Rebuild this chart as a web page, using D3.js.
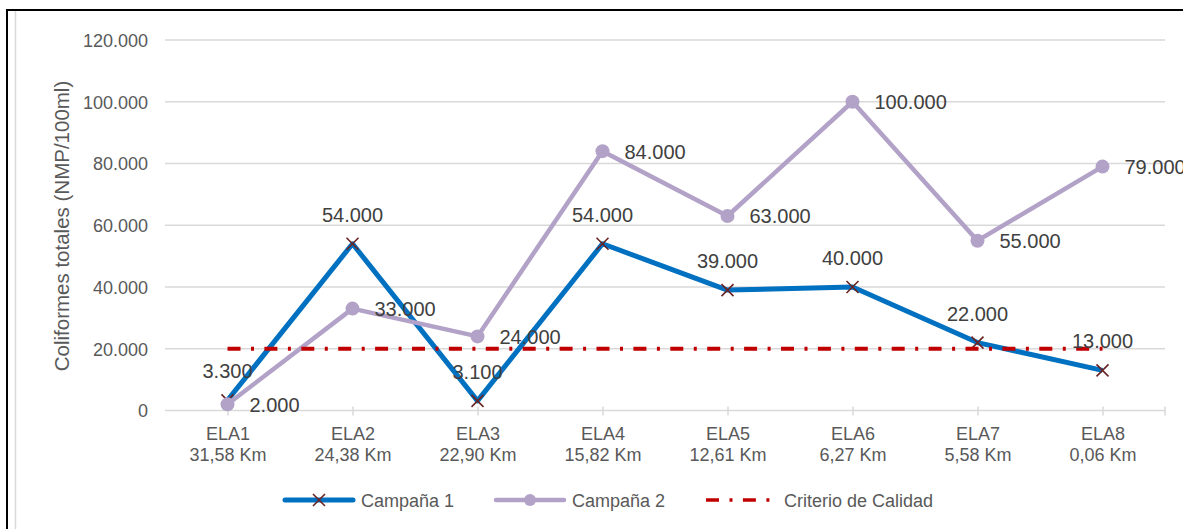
<!DOCTYPE html>
<html><head><meta charset="utf-8">
<script src="https://cdn.jsdelivr.net/npm/d3@7"></script>
<style>
html,body{margin:0;padding:0;background:#fff;overflow:hidden;}
svg{display:block;font-family:"Liberation Sans",Arial,sans-serif;}
</style></head>
<body>
<svg id="chart" width="1183" height="529"></svg>
<script>
const categories = ["ELA1","ELA2","ELA3","ELA4","ELA5","ELA6","ELA7","ELA8"];
const distances = ["31,58 Km","24,38 Km","22,90 Km","15,82 Km","12,61 Km","6,27 Km","5,58 Km","0,06 Km"];
const campana1 = [3300, 54000, 3100, 54000, 39000, 40000, 22000, 13000];
const campana2 = [2000, 33000, 24000, 84000, 63000, 100000, 55000, 79000];
const criterio = [20000, 20000, 20000, 20000, 20000, 20000, 20000, 20000];
const yTicks = [0, 20000, 40000, 60000, 80000, 100000, 120000];
const seriesNames = ["Campaña 1", "Campaña 2", "Criterio de Calidad"];
const yTitle = "Coliformes totales (NMP/100ml)";

const loc = d3.formatLocale({decimal: ",", thousands: ".", grouping: [3], currency: ["", ""]});
const fmt = loc.format(",d");

const svg = d3.select("#chart");
const BLUE = "#0070C0", PURPLE = "#B3A2C7", RED = "#C00000", XMARK = "#6B2424";
const AXIS_TXT = "#595959", LBL_TXT = "#404040", GRID = "#D9D9D9";
const DASH = "13,10.5,3,10.4";

// frame
svg.append("path").attr("d", "M7,529 V10 H1183").attr("fill", "none").attr("stroke", "#000").attr("stroke-width", 2);
svg.append("line").attr("x1", 15.5).attr("x2", 15.5).attr("y1", 11).attr("y2", 529).attr("stroke", GRID).attr("stroke-width", 1.5);

const x = d3.scalePoint().domain(categories).range([165, 1165]).padding(0.5);
const y = d3.scaleLinear().domain([0, 120000]).range([410.5, 40]);

// gridlines
svg.append("g").selectAll("line").data(yTicks.filter(d => d > 0)).join("line")
  .attr("x1", 165).attr("x2", 1165).attr("y1", d => y(d)).attr("y2", d => y(d))
  .attr("stroke", GRID).attr("stroke-width", 1.5);

// y axis labels
const yAxis = d3.axisLeft(y).tickValues(yTicks).tickFormat(fmt).tickSize(0).tickPadding(0);
const gy = svg.append("g").attr("transform", "translate(148,0)").call(yAxis);
gy.select(".domain").remove();
gy.selectAll("text").attr("fill", AXIS_TXT).style("font-size", "18px").attr("dy", "0.35em");

// x axis
const y0 = y(0);
svg.append("line").attr("x1", 165).attr("x2", 1165).attr("y1", y0).attr("y2", y0).attr("stroke", GRID).attr("stroke-width", 1.5);
const xAxis = d3.axisBottom(x).tickSize(0).tickPadding(0).tickFormat("");
const gx = svg.append("g").attr("transform", `translate(0,${y0})`).call(xAxis);
gx.select(".domain").remove();
gx.selectAll(".tick").append("line").attr("y1", -4).attr("y2", 5).attr("stroke", GRID).attr("stroke-width", 1.5);
gx.append("line").attr("x1", 1165).attr("x2", 1165).attr("y1", -4).attr("y2", 5).attr("stroke", GRID).attr("stroke-width", 1.5);
gx.selectAll(".tick").each(function(d, i) {
  const t = d3.select(this).append("text").attr("fill", AXIS_TXT).attr("text-anchor", "middle").style("font-size", "18px");
  t.append("tspan").attr("x", 0).attr("y", 29).text(d);
  t.append("tspan").attr("x", 0).attr("y", 50).text(distances[i]);
});

// y title
svg.append("text").attr("transform", `translate(69,226) rotate(-90)`)
  .attr("text-anchor", "middle").attr("fill", AXIS_TXT).style("font-size", "20.5px").text(yTitle);

const line = d3.line().x((d, i) => x(categories[i])).y(d => y(d));

// series 1
svg.append("path").datum(campana1).attr("d", line).attr("fill", "none").attr("stroke", BLUE)
  .attr("stroke-width", 5).attr("stroke-linejoin", "round");
function xMark(g, cx, cy, s) {
  g.append("path").attr("d", `M${cx - s},${cy - s} L${cx + s},${cy + s} M${cx - s},${cy + s} L${cx + s},${cy - s}`)
    .attr("stroke", XMARK).attr("stroke-width", 1.6).attr("fill", "none");
}
const m1 = svg.append("g");
campana1.forEach((v, i) => xMark(m1, x(categories[i]), y(v), 6));

// series 2
svg.append("path").datum(campana2).attr("d", line).attr("fill", "none").attr("stroke", PURPLE)
  .attr("stroke-width", 4.5).attr("stroke-linejoin", "round");
svg.append("g").selectAll("circle").data(campana2).join("circle")
  .attr("cx", (d, i) => x(categories[i])).attr("cy", d => y(d)).attr("r", 7).attr("fill", PURPLE);

// criterio
svg.append("path").datum(criterio).attr("d", line).attr("fill", "none").attr("stroke", RED)
  .attr("stroke-width", 4).attr("stroke-dasharray", DASH);

// labels
svg.append("g").selectAll("text").data(campana1).join("text")
  .attr("x", (d, i) => x(categories[i])).attr("y", d => y(d) - 22)
  .attr("text-anchor", "middle").attr("fill", LBL_TXT).style("font-size", "20px").text(d => fmt(d));
svg.append("g").selectAll("text").data(campana2).join("text")
  .attr("x", (d, i) => x(categories[i]) + 22).attr("y", d => y(d) + 7.5)
  .attr("text-anchor", "start").attr("fill", LBL_TXT).style("font-size", "20px").text(d => fmt(d));

// legend
const lg = svg.append("g").attr("transform", "translate(0,500)");
lg.append("line").attr("x1", 285).attr("x2", 353).attr("y1", 0).attr("y2", 0).attr("stroke", BLUE).attr("stroke-width", 5).attr("stroke-linecap", "round");
xMark(lg, 319, 0, 6);
lg.append("text").attr("x", 361).attr("y", 6.5).attr("fill", AXIS_TXT).style("font-size", "18px").text(seriesNames[0]);
lg.append("line").attr("x1", 496).attr("x2", 564).attr("y1", 0).attr("y2", 0).attr("stroke", PURPLE).attr("stroke-width", 4.5).attr("stroke-linecap", "round");
lg.append("circle").attr("cx", 530).attr("cy", 0).attr("r", 6).attr("fill", PURPLE);
lg.append("text").attr("x", 572).attr("y", 6.5).attr("fill", AXIS_TXT).style("font-size", "18px").text(seriesNames[1]);
lg.append("line").attr("x1", 706).attr("x2", 772).attr("y1", 0).attr("y2", 0).attr("stroke", RED).attr("stroke-width", 3.5).attr("stroke-dasharray", DASH);
lg.append("text").attr("x", 784).attr("y", 6.5).attr("fill", AXIS_TXT).style("font-size", "18px").text(seriesNames[2]);
</script>
</body></html>
